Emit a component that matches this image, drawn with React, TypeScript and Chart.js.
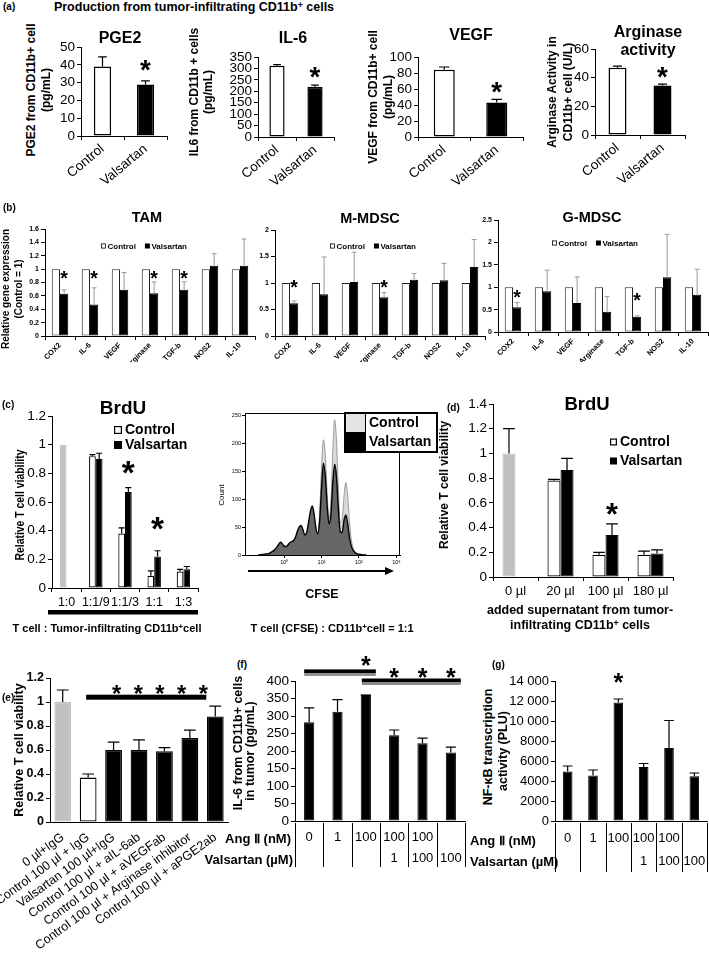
import React, { useEffect, useRef } from 'react';
import { Chart, registerables } from 'chart.js';

Chart.register(...registerables);

const FONT = "'Liberation Sans', Arial, Helvetica, sans-serif";
Chart.defaults.font.family = FONT;
Chart.defaults.color = '#000';

// ---------------- (a) ----------------
const aLabels = ['Control', 'Valsartan'];
const aColors = ['#ffffff', '#000000'];
const pge2Mean = [39, 29];
const pge2Upper = [44.5, 31];
const il6Mean = [312, 220];
const il6Upper = [317, 227];
const vegfMean = [84, 43];
const vegfUpper = [87.5, 47];
const argMean = [47, 34.5];
const argUpper = [48, 35.5];
const aStarLevels = [41, 293, 65, 45];

// ---------------- (b) ----------------
const geneLabels = ['COX2', 'IL-6', 'VEGF', 'Arginase', 'TGF-b', 'NOS2', 'IL-10'];
const geneControl = [1, 1, 1, 1, 1, 1, 1];
const tamValsartan = [0.63, 0.47, 0.69, 0.64, 0.69, 1.05, 1.05];
const tamUpper = [0.69, 0.72, 0.95, 0.81, 0.81, 1.23, 1.45];
const tamStars = [0, 1, 3, 4];
const mmdscValsartan = [0.62, 0.79, 1.02, 0.73, 1.06, 1.05, 1.3];
const mmdscUpper = [0.66, 1.49, 1.58, 0.82, 1.18, 1.37, 1.82];
const mmdscStars = [0, 3];
const gmdscValsartan = [0.55, 0.91, 0.65, 0.45, 0.34, 1.22, 0.83];
const gmdscUpper = [0.66, 1.38, 1.23, 0.79, 0.36, 2.18, 1.4];
const gmdscStars = [0, 4];

// ---------------- (c) ----------------
const ratioLabels = ['1:0', '1:1/9', '1:1/3', '1:1', '1:3'];
const cControl = [1, 0.92, 0.38, 0.085, 0.115];
const cControlUpper = [null, 0.93, 0.42, 0.12, 0.13];
const cValsartan = [null, 0.9, 0.67, 0.22, 0.13];
const cValsartanUpper = [null, 0.94, 0.7, 0.26, 0.15];
const cStars = [2, 3];
const cStarLevels = [0.86, 0.47];

// CFSE histogram (x = log10 CFSE intensity)
const cfseLog10 = [
  -0.7, -0.65, -0.6, -0.55, -0.5, -0.45, -0.4, -0.35, -0.3, -0.25, -0.2, -0.15, -0.1, -0.05,
  0, 0.05, 0.1, 0.15, 0.2, 0.25, 0.3, 0.35, 0.4, 0.45, 0.5, 0.55, 0.6, 0.65, 0.7, 0.75, 0.8,
  0.85, 0.9, 0.95, 1, 1.05, 1.1, 1.15, 1.2, 1.25, 1.3, 1.35, 1.4, 1.45, 1.5, 1.55, 1.6, 1.65,
  1.7, 1.75, 1.8, 1.85, 1.9, 1.95, 2, 2.05, 2.1, 2.15, 2.2,
];
const cfseValsartan = [
  0, 0, 1, 1, 2, 2, 3, 5, 7, 10, 14, 19, 23, 20,
  16, 15, 18, 22, 24, 26, 32, 42, 50, 53, 46, 36, 40, 58, 78, 88, 74,
  48, 38, 62, 120, 165, 142, 88, 56, 72, 128, 163, 140, 82, 42, 40, 62, 72,
  56, 30, 15, 8, 4, 2, 1, 1, 0, 0, 0,
];
const cfseControl = [
  0, 0, 0, 1, 1, 1, 2, 3, 4, 5, 7, 10, 13, 13,
  12, 12, 13, 15, 17, 19, 24, 30, 36, 40, 36, 30, 34, 48, 64, 74, 64,
  44, 40, 80, 160, 207, 180, 110, 66, 95, 185, 243, 205, 120, 58, 62, 105, 130,
  105, 58, 26, 12, 6, 3, 2, 1, 1, 0, 0,
];
const cfseDecades = [0, 1, 2, 3];
const cfseDecadeLabels = ['10⁰', '10¹', '10²', '10³'];
const cfseCountTicks = [0, 50, 100, 150, 200, 250];

// ---------------- (d) ----------------
const doseLabels = ['0 µl', '20 µl', '100 µl', '180 µl'];
const dControl = [1.0, 0.78, 0.18, 0.18];
const dControlUpper = [1.2, 0.79, 0.2, 0.21];
const dValsartan = [null, 0.865, 0.34, 0.19];
const dValsartanUpper = [null, 0.96, 0.43, 0.22];
const dStarLevel = 0.56;

// ---------------- (e) ----------------
const treatmentLabels = [
  '0 µl+IgG',
  'Control 100 µl + IgG',
  'Valsartan 100 µl+IgG',
  'Control 100 µl + aIL-6ab',
  'Control 100 µl + aVEGFab',
  'Control 100 µl + Arginase inhibitor',
  'Control 100 µl + aPGE2ab',
];
const eValues = [1.0, 0.37, 0.6, 0.6, 0.59, 0.7, 0.88];
const eUpper = [1.1, 0.4, 0.665, 0.685, 0.62, 0.765, 0.965];
const eColors = ['#c0c0c0', '#ffffff', '#000000', '#000000', '#000000', '#000000', '#000000'];
const eBorders = ['#c0c0c0', '#000000', '#000000', '#000000', '#000000', '#000000', '#000000'];
const eSigLevel = 1.04;
const eStarLevel = 1.115;

// ---------------- (f) / (g) ----------------
const angRow = ['0', '1', '100', '100', '100', ''];
const valRow = ['', '', '', '1', '100', '100'];
const fValues = [282, 312, 360, 245, 222, 196];
const fUpper = [323, 347, 360, 260, 237, 211];
const gValues = [4950, 4550, 11850, 5400, 7300, 4480];
const gUpper = [5500, 5100, 12200, 5750, 10050, 4800];

// ---------------- helpers ----------------
type Box = { cx: number; cy: number; cw: number; ch: number; x0: number; x1: number; yT: number; yB: number };
type DS = { data: (number | null)[]; upper?: (number | null)[]; bg: any; border: any; bw?: number };
type H = {
  ctx: CanvasRenderingContext2D;
  X: (i: number) => number;
  Y: (v: number) => number;
  BX: (d: number, i: number) => number;
  area: { l: number; r: number; t: number; b: number };
};
type Spec = {
  box: Box;
  labels: string[];
  sets: DS[];
  yMax: number;
  yStep: number;
  yFont: any;
  yFmt?: (v: number) => string;
  xFont?: any;
  xRot?: number;
  xTickMarks: boolean;
  xLabels: boolean;
  xPad?: number;
  barPct: number;
  catPct: number;
  errColor?: string;
  errWidth?: number;
  cap?: number;
  draw?: (h: H) => void;
};

const F = (size: number, bold = false) => ({ size, weight: bold ? 'bold' : 'normal', family: FONT, lineHeight: 1.2 });
const plainNum = (v: number) => String(parseFloat(v.toFixed(3)));

function star(ctx: CanvasRenderingContext2D, x: number, y: number, w: number) {
  const size = w / 0.36;
  ctx.save();
  ctx.font = `bold ${size}px ${FONT}`;
  ctx.fillStyle = '#000';
  ctx.textAlign = 'center';
  ctx.textBaseline = 'alphabetic';
  ctx.fillText('*', x, y + size * 0.57);
  ctx.restore();
}

function legendRow(ctx: CanvasRenderingContext2D, cx: number, y: number, fontPx: number, sq: number, items: { fill: boolean; text: string }[], spacing: number) {
  ctx.save();
  ctx.font = `bold ${fontPx}px ${FONT}`;
  const gap = 1.5;
  const widths = items.map((it) => sq + gap + ctx.measureText(it.text).width);
  const total = widths.reduce((a, b) => a + b, 0) + spacing * (items.length - 1);
  let x = cx - total / 2;
  ctx.textBaseline = 'middle';
  ctx.textAlign = 'left';
  ctx.fillStyle = '#000';
  ctx.strokeStyle = '#000';
  ctx.lineWidth = 0.8;
  items.forEach((it, k) => {
    if (it.fill) ctx.fillRect(x, y - sq / 2, sq, sq);
    else ctx.strokeRect(x + 0.4, y - sq / 2 + 0.4, sq - 0.8, sq - 0.8);
    ctx.fillText(it.text, x + sq + gap, y + 0.5);
    x += widths[k] + spacing;
  });
  ctx.restore();
}

function legendCol(ctx: CanvasRenderingContext2D, x: number, ys: number[], fontPx: number, sq: number, items: { fill: boolean; text: string }[]) {
  ctx.save();
  ctx.font = `bold ${fontPx}px ${FONT}`;
  ctx.textBaseline = 'middle';
  ctx.textAlign = 'left';
  ctx.fillStyle = '#000';
  ctx.strokeStyle = '#000';
  ctx.lineWidth = 1.2;
  items.forEach((it, k) => {
    const y = ys[k];
    if (it.fill) ctx.fillRect(x, y - sq / 2, sq, sq);
    else ctx.strokeRect(x + 0.6, y - sq / 2 + 0.6, sq - 1.2, sq - 1.2);
    ctx.fillText(it.text, x + sq + 3, y + 0.5);
  });
  ctx.restore();
}

function extrasPlugin(s: Spec) {
  return {
    id: 'extras',
    afterDatasetsDraw(chart: any) {
      const b = s.box;
      const ctx = chart.ctx as CanvasRenderingContext2D;
      const xs = chart.scales.x;
      const ys = chart.scales.y;
      const h: H = {
        ctx,
        X: (i: number) => xs.getPixelForValue(i) + b.cx,
        Y: (v: number) => ys.getPixelForValue(v) + b.cy,
        BX: (d: number, i: number) => chart.getDatasetMeta(d).data[i].x + b.cx,
        area: {
          l: chart.chartArea.left + b.cx,
          r: chart.chartArea.right + b.cx,
          t: chart.chartArea.top + b.cy,
          b: chart.chartArea.bottom + b.cy,
        },
      };
      ctx.save();
      ctx.translate(-b.cx, -b.cy);
      ctx.strokeStyle = s.errColor ?? '#000';
      ctx.lineWidth = s.errWidth ?? 1.2;
      s.sets.forEach((d, di) => {
        if (!d.upper) return;
        const meta = chart.getDatasetMeta(di);
        d.upper.forEach((u, i) => {
          const v = d.data[i];
          if (u == null || v == null) return;
          const el = meta.data[i];
          const x = el.x + b.cx;
          const y0 = h.Y(v);
          const y1 = h.Y(u);
          const hw = (el.width * (s.cap ?? 0.5)) / 2;
          ctx.beginPath();
          ctx.moveTo(x, y0);
          ctx.lineTo(x, y1);
          ctx.moveTo(x - hw, y1);
          ctx.lineTo(x + hw, y1);
          ctx.stroke();
        });
      });
      if (s.draw) s.draw(h);
      ctx.restore();
    },
  };
}

function buildBar(canvas: HTMLCanvasElement, s: Spec) {
  const b = s.box;
  const fmt = s.yFmt ?? plainNum;
  const yTicks: any = {
    stepSize: s.yStep,
    font: s.yFont,
    color: '#000',
    padding: 2,
    autoSkip: false,
    callback: (v: any) => fmt(Number(v)),
  };
  return new Chart(canvas, {
    type: 'bar',
    data: {
      labels: s.labels,
      datasets: s.sets.map((d) => ({
        data: d.data as any,
        backgroundColor: d.bg,
        borderColor: d.border,
        borderWidth: d.bw ?? 1,
        borderSkipped: false,
        barPercentage: s.barPct,
        categoryPercentage: s.catPct,
      })),
    },
    options: {
      responsive: false,
      animation: false,
      devicePixelRatio: 1,
      layout: { padding: { left: 0, top: b.yT - b.cy, right: b.cx + b.cw - b.x1, bottom: 0 } },
      plugins: { legend: { display: false }, tooltip: { enabled: false } },
      scales: {
        x: {
          afterFit: (sc: any) => {
            sc.height = b.cy + b.ch - b.yB;
          },
          grid: { display: s.xTickMarks, drawOnChartArea: false, drawTicks: true, tickLength: 4, color: '#000', offset: true },
          border: { display: true, color: '#000', width: 1 },
          ticks: {
            display: s.xLabels,
            font: s.xFont,
            color: '#000',
            minRotation: s.xRot ?? 0,
            maxRotation: s.xRot ?? 0,
            autoSkip: false,
            padding: s.xPad ?? 2,
          },
        },
        y: {
          min: 0,
          max: s.yMax,
          afterFit: (sc: any) => {
            sc.width = b.x0 - b.cx;
          },
          grid: { drawOnChartArea: false, drawTicks: true, tickLength: 4, color: '#000' },
          border: { display: true, color: '#000', width: 1 },
          ticks: yTicks,
        },
      },
    } as any,
    plugins: [extrasPlugin(s) as any],
  });
}

// ---------------- specs ----------------
function aSpec(box: Box, mean: number[], upper: number[], yMax: number, yStep: number, starLevel: number): Spec {
  return {
    box,
    labels: aLabels,
    sets: [{ data: mean, upper, bg: aColors, border: '#000', bw: 1.5 }],
    yMax,
    yStep,
    yFont: F(13.5),
    xFont: F(13.5),
    xRot: 40,
    xTickMarks: true,
    xLabels: true,
    xPad: 1,
    barPct: 0.4,
    catPct: 1,
    cap: 0.5,
    draw: ({ ctx, X, Y }) => star(ctx, X(1), Y(starLevel), 10),
  };
}

function bSpec(box: Box, vals: number[], upper: number[], yMax: number, yStep: number, stars: number[], starLevel: number[], legendX: number, legendY: number): Spec {
  return {
    box,
    labels: geneLabels,
    sets: [
      { data: geneControl, bg: '#ffffff', border: '#222', bw: 1 },
      { data: vals, upper, bg: '#000', border: '#000', bw: 1 },
    ],
    yMax,
    yStep,
    yFont: F(7, true),
    xFont: F(7.5, true),
    xRot: 45,
    xTickMarks: true,
    xLabels: true,
    xPad: 1,
    barPct: 1,
    catPct: 0.55,
    errColor: '#9a9a9a',
    errWidth: 1,
    cap: 0.6,
    draw: ({ ctx, Y, BX }) => {
      stars.forEach((i, k) => star(ctx, BX(1, i), Y(starLevel[k]), 7));
      legendRow(ctx, legendX, legendY, 8, 5, [
        { fill: false, text: 'Control' },
        { fill: true, text: 'Valsartan' },
      ], 9);
    },
  };
}

const specs: Spec[] = [];

function add(s: Spec) {
  specs.push(s);
}

add(aSpec({ cx: 45, cy: 25, cw: 135, ch: 165, x0: 81, x1: 167, yT: 47, yB: 136 }, pge2Mean, pge2Upper, 50, 10, aStarLevels[0]));
add(aSpec({ cx: 222, cy: 25, cw: 120, ch: 165, x0: 258, x1: 334, yT: 57, yB: 137 }, il6Mean, il6Upper, 350, 50, aStarLevels[1]));
add(aSpec({ cx: 385, cy: 25, cw: 150, ch: 165, x0: 418, x1: 523, yT: 57, yB: 137 }, vegfMean, vegfUpper, 100, 20, aStarLevels[2]));
add(aSpec({ cx: 565, cy: 25, cw: 135, ch: 165, x0: 595, x1: 685, yT: 49, yB: 135 }, argMean, argUpper, 60, 20, aStarLevels[3]));

add(bSpec({ cx: 15, cy: 222, cw: 250, ch: 140, x0: 45, x1: 255, yT: 229, yB: 336 }, tamValsartan, tamUpper, 1.6, 0.2, tamStars, [0.93, 0.93, 0.93, 0.93], 144, 246));
add(bSpec({ cx: 248, cy: 222, cw: 240, ch: 140, x0: 275, x1: 485, yT: 230, yB: 336 }, mmdscValsartan, mmdscUpper, 2, 0.5, mmdscStars, [1.0, 1.0], 373, 246));
add(bSpec({ cx: 472, cy: 212, cw: 237, ch: 150, x0: 498, x1: 708, yT: 220, yB: 332 }, gmdscValsartan, gmdscUpper, 2.5, 0.5, gmdscStars, [0.87, 0.8], 595, 243));

// (c)
add({
  box: { cx: 0, cy: 398, cw: 215, ch: 225, x0: 52, x1: 198, yT: 416, yB: 588 },
  labels: ratioLabels,
  sets: [
    {
      data: cControl,
      upper: cControlUpper,
      bg: ['#c0c0c0', '#fff', '#fff', '#fff', '#fff'],
      border: ['#c0c0c0', '#000', '#000', '#000', '#000'],
      bw: 1.2,
    },
    { data: cValsartan, upper: cValsartanUpper, bg: '#000', border: '#000', bw: 1 },
  ],
  yMax: 1.2,
  yStep: 0.2,
  yFont: F(13.5),
  xFont: F(12.5),
  xRot: 0,
  xTickMarks: true,
  xLabels: true,
  xPad: 3,
  barPct: 1,
  catPct: 0.46,
  cap: 0.9,
  draw: ({ ctx, Y, BX, area }) => {
    cStars.forEach((i, k) => star(ctx, BX(1, i), Y(cStarLevels[k]), 12));
    legendCol(ctx, 114, [430, 445], 14, 8, [
      { fill: false, text: 'Control' },
      { fill: true, text: 'Valsartan' },
    ]);
    ctx.fillStyle = '#000';
    ctx.fillRect(area.l - 4, 610, area.r - area.l + 4, 4.5);
  },
});

// (d)
add({
  box: { cx: 455, cy: 385, cw: 254, ch: 220, x0: 493, x1: 673, yT: 404, yB: 577 },
  labels: doseLabels,
  sets: [
    {
      data: dControl,
      upper: dControlUpper,
      bg: ['#c0c0c0', '#fff', '#fff', '#fff'],
      border: ['#c0c0c0', '#000', '#000', '#000'],
      bw: 1.2,
    },
    { data: dValsartan, upper: dValsartanUpper, bg: '#000', border: '#000', bw: 1 },
  ],
  yMax: 1.4,
  yStep: 0.2,
  yFont: F(13.5),
  xFont: F(13),
  xRot: 0,
  xTickMarks: true,
  xLabels: true,
  xPad: 3,
  barPct: 1,
  catPct: 0.58,
  cap: 0.9,
  draw: ({ ctx, Y, BX }) => {
    star(ctx, BX(1, 2), Y(dStarLevel), 11);
    legendCol(ctx, 610, [442, 461], 14, 7, [
      { fill: false, text: 'Control' },
      { fill: true, text: 'Valsartan' },
    ]);
  },
});

// (e)
add({
  box: { cx: 0, cy: 665, cw: 235, ch: 304, x0: 50, x1: 228, yT: 678, yB: 822 },
  labels: treatmentLabels,
  sets: [{ data: eValues, upper: eUpper, bg: eColors, border: eBorders, bw: 1.3 }],
  yMax: 1.2,
  yStep: 0.2,
  yFont: F(12.5, true),
  xFont: F(12.5),
  xRot: 36,
  xTickMarks: false,
  xLabels: true,
  xPad: 4,
  barPct: 0.66,
  catPct: 1,
  cap: 0.7,
  draw: ({ ctx, X, Y }) => {
    const y = Y(eSigLevel);
    const xa = X(1) - 2;
    const xb = X(6) - 9;
    ctx.fillStyle = '#000';
    ctx.fillRect(xa, y - 2.5, xb - xa, 5);
    const s0 = X(2) + 3;
    const s1 = xb - 3;
    for (let k = 0; k < 5; k++) star(ctx, s0 + ((s1 - s0) * k) / 4, Y(eStarLevel), 8.5);
  },
});

function drawTable(h: H, n: number, rows: string[][], yTop: number, yBot: number, rowY: number[]) {
  const { ctx, X, area } = h;
  const w = (area.r - area.l) / n;
  ctx.save();
  ctx.strokeStyle = '#000';
  ctx.lineWidth = 1;
  for (let i = 0; i <= n; i++) {
    const x = Math.round(area.l + i * w) + 0.5;
    ctx.beginPath();
    ctx.moveTo(x, yTop);
    ctx.lineTo(x, yBot);
    ctx.stroke();
  }
  ctx.font = `13px ${FONT}`;
  ctx.fillStyle = '#000';
  ctx.textAlign = 'center';
  ctx.textBaseline = 'middle';
  rows.forEach((row, r) => row.forEach((t, i) => ctx.fillText(t, X(i), rowY[r])));
  ctx.restore();
}

// (f)
add({
  box: { cx: 262, cy: 640, cw: 210, ch: 240, x0: 295, x1: 465, yT: 681, yB: 821 },
  labels: angRow.map((_, i) => String(i)),
  sets: [{ data: fValues, upper: fUpper, bg: '#000', border: '#000', bw: 1 }],
  yMax: 400,
  yStep: 50,
  yFont: F(13.5),
  xTickMarks: false,
  xLabels: false,
  barPct: 0.36,
  catPct: 1,
  cap: 1.0,
  draw: (h) => {
    const { ctx, X, Y } = h;
    const bar = (xa: number, xb: number, y: number) => {
      ctx.fillStyle = '#000';
      ctx.fillRect(xa, y - 2.5, xb - xa, 4);
      ctx.fillStyle = '#8c8c8c';
      ctx.fillRect(xa, y + 1.5, xb - xa, 2.5);
    };
    bar(X(0) - 5, X(2) + 10, Y(426));
    bar(X(2) - 4, X(5) + 10, Y(400));
    star(ctx, X(2), Y(460), 9);
    [3, 4, 5].forEach((i) => star(ctx, X(i), Y(426), 9));
    drawTable(h, 6, [angRow, valRow], 823, 867, [837, 858]);
  },
});

// (g)
add({
  box: { cx: 505, cy: 650, cw: 204, ch: 230, x0: 555, x1: 707, yT: 681, yB: 821 },
  labels: angRow.map((_, i) => String(i)),
  sets: [{ data: gValues, upper: gUpper, bg: '#000', border: '#000', bw: 1 }],
  yMax: 14000,
  yStep: 2000,
  yFont: F(13),
  yFmt: (v) => (v >= 10000 ? `${Math.floor(v / 1000)} 000` : String(v)),
  xTickMarks: false,
  xLabels: false,
  barPct: 0.38,
  catPct: 1,
  cap: 1.0,
  draw: (h) => {
    star(h.ctx, h.X(2), h.Y(14400), 9);
    drawTable(h, 6, [angRow, valRow], 823, 872, [838, 861]);
  },
});

// ---------------- CFSE histogram ----------------
const cfseBox: Box = { cx: 205, cy: 398, cw: 245, ch: 207, x0: 245, x1: 400, yT: 413, yB: 555 };

function buildCfse(canvas: HTMLCanvasElement) {
  const b = cfseBox;
  return new Chart(canvas, {
    type: 'line',
    data: {
      datasets: [
        {
          label: 'Valsartan',
          data: cfseLog10.map((x, i) => ({ x, y: cfseValsartan[i] })),
          borderColor: '#000',
          borderWidth: 1.4,
          backgroundColor: '#666666',
          fill: 'origin',
          pointRadius: 0,
          tension: 0.3,
          cubicInterpolationMode: 'monotone',
        },
        {
          label: 'Control',
          data: cfseLog10.map((x, i) => ({ x, y: cfseControl[i] })),
          borderColor: '#9a9a9a',
          borderWidth: 1,
          backgroundColor: '#d9d9d9',
          fill: 'origin',
          pointRadius: 0,
          tension: 0.3,
          cubicInterpolationMode: 'monotone',
        },
      ],
    },
    options: {
      responsive: false,
      animation: false,
      devicePixelRatio: 1,
      layout: { padding: { left: 0, top: b.yT - b.cy, right: b.cx + b.cw - b.x1, bottom: 0 } },
      plugins: { legend: { display: false }, tooltip: { enabled: false } },
      scales: {
        x: {
          type: 'linear',
          min: -1.05,
          max: 3.1,
          afterFit: (sc: any) => {
            sc.height = b.cy + b.ch - b.yB;
          },
          afterBuildTicks: (sc: any) => {
            sc.ticks = cfseDecades.map((v) => ({ value: v }));
          },
          grid: { drawOnChartArea: false, tickLength: 3, color: '#000' },
          border: { color: '#000' },
          ticks: { font: F(5.5), padding: 1, callback: (v: any) => cfseDecadeLabels[cfseDecades.indexOf(Number(v))] ?? '' },
        },
        y: {
          type: 'linear',
          min: 0,
          max: 255,
          afterFit: (sc: any) => {
            sc.width = b.x0 - b.cx;
          },
          afterBuildTicks: (sc: any) => {
            sc.ticks = cfseCountTicks.map((v) => ({ value: v }));
          },
          grid: { drawOnChartArea: false, tickLength: 3, color: '#000' },
          border: { color: '#000' },
          ticks: { font: F(5.5), padding: 1 },
        },
      },
    } as any,
    plugins: [
      {
        id: 'cfseExtras',
        afterDraw(chart: any) {
          const ctx = chart.ctx as CanvasRenderingContext2D;
          const a = chart.chartArea;
          ctx.save();
          ctx.translate(-b.cx, -b.cy);
          const L = a.left + b.cx;
          const R = a.right + b.cx;
          const T = a.top + b.cy;
          const B = a.bottom + b.cy;
          ctx.strokeStyle = '#000';
          ctx.lineWidth = 1;
          ctx.beginPath();
          ctx.moveTo(L, T + 0.5);
          ctx.lineTo(345, T + 0.5);
          ctx.moveTo(R - 0.5, 452);
          ctx.lineTo(R - 0.5, B);
          ctx.stroke();
          // legend
          ctx.fillStyle = '#fff';
          ctx.fillRect(345, 413, 92, 39);
          ctx.fillStyle = '#e3e3e3';
          ctx.fillRect(346, 414, 19, 18);
          ctx.fillStyle = '#000';
          ctx.fillRect(346, 432, 19, 19);
          ctx.lineWidth = 2;
          ctx.strokeRect(345, 413, 92, 39);
          ctx.lineWidth = 1;
          ctx.beginPath();
          ctx.moveTo(365.5, 413);
          ctx.lineTo(365.5, 452);
          ctx.stroke();
          ctx.font = `bold 14px ${FONT}`;
          ctx.textAlign = 'left';
          ctx.textBaseline = 'middle';
          ctx.fillText('Control', 369, 423);
          ctx.fillText('Valsartan', 369, 442.5);
          // arrow
          ctx.lineWidth = 2;
          ctx.beginPath();
          ctx.moveTo(248, 571);
          ctx.lineTo(387, 571);
          ctx.stroke();
          ctx.beginPath();
          ctx.moveTo(394, 571);
          ctx.lineTo(385, 567);
          ctx.lineTo(385, 575);
          ctx.closePath();
          ctx.fill();
          ctx.font = `bold 12.5px ${FONT}`;
          ctx.textAlign = 'center';
          ctx.fillText('CFSE', 322, 595);
          ctx.save();
          ctx.translate(222, 495);
          ctx.rotate(-Math.PI / 2);
          ctx.font = `8px ${FONT}`;
          ctx.fillText('Count', 0, 0);
          ctx.restore();
          ctx.restore();
        },
      } as any,
    ],
  });
}

// ---------------- React ----------------
function BarCanvas({ spec }: { spec: Spec }) {
  const ref = useRef<HTMLCanvasElement>(null);
  useEffect(() => {
    const c = buildBar(ref.current!, spec);
    return () => c.destroy();
  }, []);
  const b = spec.box;
  return <canvas ref={ref} width={b.cw} height={b.ch} style={{ position: 'absolute', left: b.cx, top: b.cy, width: b.cw, height: b.ch }} />;
}

function CfseCanvas() {
  const ref = useRef<HTMLCanvasElement>(null);
  useEffect(() => {
    const c = buildCfse(ref.current!);
    return () => c.destroy();
  }, []);
  const b = cfseBox;
  return <canvas ref={ref} width={b.cw} height={b.ch} style={{ position: 'absolute', left: b.cx, top: b.cy, width: b.cw, height: b.ch }} />;
}

type TP = { x: number; y: number; size: number; bold?: boolean; align?: 'left' | 'center' | 'right'; rot?: number; sx?: number; children: React.ReactNode };
function Txt({ x, y, size, bold = true, align = 'center', rot = 0, sx = 1, children }: TP) {
  const tx = align === 'left' ? '0' : align === 'right' ? '-100%' : '-50%';
  const origin = align === 'left' ? 'left center' : align === 'right' ? 'right center' : 'center center';
  return (
    <div
      style={{
        position: 'absolute',
        left: x,
        top: y,
        fontFamily: FONT,
        fontSize: size,
        fontWeight: bold ? 700 : 400,
        lineHeight: 1,
        whiteSpace: 'nowrap',
        color: '#000',
        transformOrigin: origin,
        transform: `translate(${tx}, -50%) rotate(${rot}deg) scaleX(${sx})`,
      }}
    >
      {children}
    </div>
  );
}

const sup = { fontSize: '0.7em', verticalAlign: '0.35em' };

export default function App() {
  return (
    <div style={{ position: 'absolute', left: 0, top: 0, width: 709, height: 969, background: '#fff', overflow: 'hidden' }}>
      {specs.map((s, i) => (
        <BarCanvas key={i} spec={s} />
      ))}
      <CfseCanvas />

      {/* (a) */}
      <Txt x={3} y={7} size={10} align="left">(a)</Txt>
      <Txt x={194} y={7} size={12.5}>Production from tumor-infiltrating CD11b<span style={sup}>+</span> cells</Txt>
      <Txt x={120} y={38} size={16}>PGE2</Txt>
      <Txt x={293} y={38} size={16}>IL-6</Txt>
      <Txt x={471} y={35} size={16}>VEGF</Txt>
      <Txt x={648} y={32} size={16}>Arginase</Txt>
      <Txt x={648} y={50} size={16}>activity</Txt>
      <Txt x={31} y={90} size={12} rot={-90}>PGE2 from CD11b+ cell</Txt>
      <Txt x={46} y={90} size={12} rot={-90}>(pg/mL)</Txt>
      <Txt x={194} y={92} size={12} rot={-90}>IL6 from CD11b + cells</Txt>
      <Txt x={208} y={92} size={12} rot={-90}>(pg/mL)</Txt>
      <Txt x={373} y={97} size={12} rot={-90}>VEGF from CD11b+ cell</Txt>
      <Txt x={388} y={97} size={12} rot={-90}>(pg/mL)</Txt>
      <Txt x={552} y={92} size={12} rot={-90}>Arginase Activity in</Txt>
      <Txt x={568} y={92} size={12} rot={-90}>CD11b+ cell (U/L)</Txt>

      {/* (b) */}
      <Txt x={3} y={208} size={10} align="left">(b)</Txt>
      <Txt x={147} y={217} size={14.5}>TAM</Txt>
      <Txt x={370} y={218} size={14.5}>M-MDSC</Txt>
      <Txt x={592} y={217} size={14.5}>G-MDSC</Txt>
      <Txt x={6} y={289} size={10} rot={-90}>Relative gene expression</Txt>
      <Txt x={19} y={289} size={10} rot={-90}>(Control = 1)</Txt>

      {/* (c) */}
      <Txt x={2} y={405} size={10} align="left">(c)</Txt>
      <Txt x={123} y={407} size={19}>BrdU</Txt>
      <Txt x={19} y={505} size={13} rot={-90} sx={0.8}>Relative T cell viability</Txt>
      <Txt x={107} y={628} size={11}>T cell : Tumor-infiltrating CD11b<span style={sup}>+</span>cell</Txt>
      <Txt x={332} y={628} size={11}>T cell (CFSE) : CD11b<span style={sup}>+</span>cell = 1:1</Txt>

      {/* (d) */}
      <Txt x={447} y={408} size={10} align="left">(d)</Txt>
      <Txt x={587} y={404} size={18.5}>BrdU</Txt>
      <Txt x={444} y={485} size={12} rot={-90}>Relative T cell viability</Txt>
      <Txt x={580} y={610} size={12.5}>added supernatant from tumor-</Txt>
      <Txt x={580} y={625} size={12.5}>infiltrating CD11b<span style={sup}>+</span> cells</Txt>

      {/* (e) */}
      <Txt x={2} y={698} size={10} align="left">(e)</Txt>
      <Txt x={19} y={750} size={12.5} rot={-90}>Relative T cell viability</Txt>

      {/* (f) */}
      <Txt x={237} y={665} size={10} align="left">(f)</Txt>
      <Txt x={238} y={743} size={12.5} rot={-90}>IL-6 from CD11b+ cells</Txt>
      <Txt x={250} y={751} size={12.5} rot={-90}>in tumor (pg/mL)</Txt>
      <Txt x={291} y={838} size={13} align="right">Ang Ⅱ (nM)</Txt>
      <Txt x={293} y={859} size={13} align="right">Valsartan (µM)</Txt>

      {/* (g) */}
      <Txt x={492} y={665} size={10} align="left">(g)</Txt>
      <Txt x={488} y={747} size={12.5} rot={-90}>NF-κB transcription</Txt>
      <Txt x={503} y={751} size={12.5} rot={-90}>activity (PLU)</Txt>
      <Txt x={470} y={840} size={13} align="left">Ang Ⅱ (nM)</Txt>
      <Txt x={470} y={861} size={13} align="left">Valsartan (µM)</Txt>
    </div>
  );
}
